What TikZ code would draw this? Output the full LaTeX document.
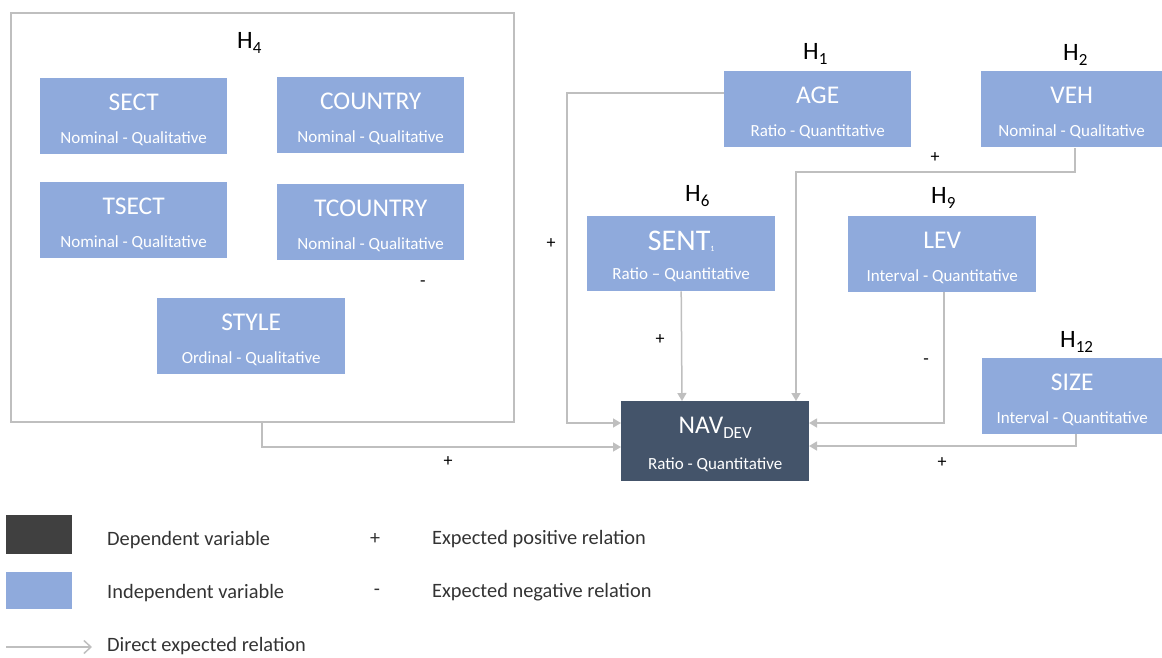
\documentclass[tikz,border=0pt]{standalone}
\usepackage{fontspec}
\setmainfont{Carlito}
\usetikzlibrary{arrows.meta,calc}
\definecolor{ibl}{HTML}{8FAADC}
\definecolor{dnav}{HTML}{44546A}
\definecolor{dleg}{HTML}{404040}
\definecolor{lgray}{HTML}{BFBFBF}
\definecolor{legtext}{HTML}{333333}
\newcommand{\mysub}[2][17]{\raisebox{-5pt}{\fontsize{#1}{#1}\selectfont #2}}
\newcommand{\varbox}[7][ibl]{%
  \node[ibox, fill=#1, minimum width=#5pt] (#2) at (#3,#4) {};
  \node[ttl] (#2-t) at ($(#2.north)+(0,32)$) {#6};
  \node[subt] (#2-s) at ($(#2.north)+(0,65)$) {#7};
}
\begin{document}
\begin{tikzpicture}[x=1pt,y=-1pt,
  ibox/.style={draw=none, minimum height=76pt, inner sep=0pt, anchor=north west},
  ttl/.style={anchor=base, inner sep=0pt, text=white, font=\fontsize{25.5}{28}\selectfont},
  subt/.style={anchor=base, inner sep=0pt, text=white, font=\fontsize{17}{20}\selectfont},
  hlab/.style={anchor=base west, inner sep=0pt, text=black, font=\fontsize{25}{28}\selectfont},
  sign/.style={anchor=center, inner sep=0pt, text=black, font=\fontsize{18}{20}\selectfont},
  legtxt/.style={anchor=base west, inner sep=0pt, text=legtext, font=\fontsize{20.4}{24}\selectfont},
  conn/.style={draw=lgray, line width=1.5pt, -{Triangle[length=8pt,width=9pt]}},
  legarrow/.style={draw=lgray, line width=1.5pt, -{Straight Barb[length=7pt,width=13pt,line width=1.5pt]}},
]
\useasboundingbox (0,0) rectangle (1162,657);

% H4 group box
\node[draw=lgray, line width=2pt, minimum width=503pt, minimum height=409pt, inner sep=0pt, anchor=north west] (grp) at (10,12) {};
\node[hlab] (h4) at (237,48) {H\mysub{4}};

\varbox{sect}{40}{78}{187}{SECT}{Nominal - Qualitative}
\varbox{country}{277}{77}{187}{COUNTRY}{Nominal - Qualitative}
\varbox{tsect}{40}{182}{187}{TSECT}{Nominal - Qualitative}
\varbox{tcountry}{277}{184}{187}{TCOUNTRY}{Nominal - Qualitative}
\varbox{style}{157}{298}{188}{STYLE}{Ordinal - Qualitative}
\node[sign] (m4) at (423,284) {-};

% right-hand variables
\node[hlab] (h1) at (803,59) {H\mysub{1}};
\varbox{age}{724}{71}{187}{AGE}{Ratio - Quantitative}
\node[hlab] (h2) at (1063,60) {H\mysub{2}};
\varbox{veh}{981}{71}{181}{VEH}{Nominal - Qualitative}

\node[hlab] (h6) at (685,201) {H\mysub{6}};
\node[ibox, fill=ibl, minimum width=188pt, minimum height=75pt] (sent) at (587,216) {};
\node[ttl, font=\fontsize{30}{32}\selectfont] (sent-t) at ($(sent.north)+(0,34)$) {SENT\raisebox{-1pt}{\fontsize{8}{8}\selectfont 1}};
\node[subt] (sent-s) at ($(sent.north)+(0,63)$) {Ratio – Quantitative};

\node[hlab] (h9) at (931,203) {H\mysub{9}};
\varbox{lev}{848}{216}{188}{LEV}{Interval - Quantitative}

\node[hlab] (h12) at (1060,347) {H\mysub{12}};
\varbox{size}{982}{358}{180}{SIZE}{Interval - Quantitative}

% dependent variable
\node[ibox, fill=dnav, minimum width=188pt, minimum height=80pt] (nav) at (621,401) {};
\node[ttl] (nav-t) at ($(nav.north)+(0,32)$) {NAV\mysub{DEV}};
\node[subt] (nav-s) at ($(nav.north)+(0,68)$) {Ratio - Quantitative};

% connector points
\coordinate (ageout) at (724,93);
\coordinate (vehout) at (1075,148);
\coordinate (levout) at (944,292);
\coordinate (sizeout) at (1076,434);
\coordinate (grpout) at (262,421);
\coordinate (navL1) at (621,423);
\coordinate (navL2) at (621,447);
\coordinate (navR1) at (809,423);
\coordinate (navR2) at (809,446);
\coordinate (navT1) at (682,401);
\coordinate (navT2) at (796,401);

\draw[conn] (ageout) -- (567,93) -- (567,423) -- (navL1);
\draw[conn] (vehout) -- (1075,172) -- (796,172) -- (navT2);
\draw[conn] (sent.south) -- (navT1);
\draw[conn] (levout) -- (944,423) -- (navR1);
\draw[conn] (sizeout) -- (1076,446) -- (navR2);
\draw[conn] (grpout) -- (262,447) -- (navL2);

\node[sign] (pAge) at (551,244) {+};
\node[sign] (pVeh) at (935,158) {+};
\node[sign] (pSent) at (660,340) {+};
\node[sign] (mLev) at (926,362) {-};
\node[sign] (pSize) at (942,463) {+};
\node[sign] (pGrp) at (448,462) {+};

% legend
\node[fill=dleg, minimum width=66pt, minimum height=39pt, inner sep=0pt, anchor=north west] (legDep) at (6,515) {};
\node[fill=ibl, minimum width=66pt, minimum height=37pt, inner sep=0pt, anchor=north west] (legInd) at (6,572) {};
\node[legtxt] (legDepT) at (107,545) {Dependent variable};
\node[legtxt] (legIndT) at (107,598) {Independent variable};
\node[sign, font=\fontsize{20}{22}\selectfont, text=legtext] (legPlus) at (375,539) {+};
\node[sign, font=\fontsize{20}{22}\selectfont, text=legtext] (legMinus) at (377,592) {-};
\node[legtxt] (legPosT) at (432,544) {Expected positive relation};
\node[legtxt] (legNegT) at (432,597) {Expected negative relation};
\coordinate (legA) at (6,647);
\coordinate (legB) at (92,647);
\draw[legarrow] (legA) -- (legB);
\node[legtxt] (legArrT) at (107,651.5) {Direct expected relation};
\end{tikzpicture}
\end{document}
